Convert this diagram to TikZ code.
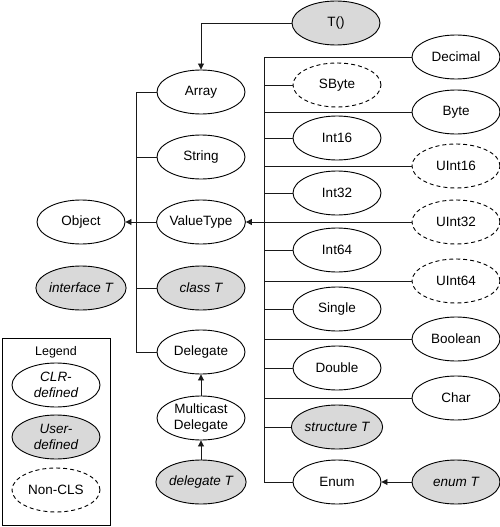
\documentclass[tikz,border=0pt]{standalone}
\usepackage{fontspec}
\setmainfont{Liberation Sans}
\usetikzlibrary{shapes.geometric,arrows.meta,positioning}
\tikzset{
  >={Triangle[length=6pt,width=6pt]},
  clr/.style={draw,ellipse,fill=white,minimum width=88pt,minimum height=44pt,inner sep=0pt,align=center,font=\fontsize{13.5}{16}\selectfont},
  usr/.style={clr,fill=gray!30},
  usrit/.style={usr,font=\fontsize{13.5}{16}\selectfont\itshape},
  ncls/.style={clr,dash pattern=on 4pt off 3pt},
  link/.style={draw,line width=0.9pt,black!90}
}
\begin{document}
\begin{tikzpicture}[x=1pt,y=-1pt,line width=0.9pt]
\useasboundingbox (0,0) rectangle (500,527);
% left part
\node[usr](T) at (336,23){T()};
\node[clr](arr) at (201,92){Array};
\node[clr](str) at (201,157){String};
\node[clr](vtype) at (201,222){ValueType};
\node[clr](obj) at (81,222){Object};
\node[usrit](ifaceT) at (81,288){interface T};
\node[usrit](classT) at (201,288){class T};
\node[clr](deleg) at (201,352){Delegate};
\node[clr](mcast) at (201,418){Multicast\\Delegate};
\node[usrit](delegT) at (201,482){delegate T};
% value types, inner column
\node[ncls](sbyte) at (337,85){SByte};
\node[clr](int16) at (337,138){Int16};
\node[clr](int32) at (337,193){Int32};
\node[clr](int64) at (337,250){Int64};
\node[clr](single) at (337,309){Single};
\node[clr](double) at (337,368){Double};
\node[usrit](structT) at (337,427){structure T};
\node[clr](enum) at (337,482){Enum};
% value types, outer column
\node[clr](decimal) at (456,57){Decimal};
\node[clr](byte) at (456,112){Byte};
\node[ncls](uint16) at (456,166){UInt16};
\node[ncls](uint32) at (456,222){UInt32};
\node[ncls](uint64) at (456,281){UInt64};
\node[clr](bool) at (456,339){Boolean};
\node[clr](char) at (456,398){Char};
\node[usrit](enumT) at (456,482){enum T};
% trunks
\coordinate(trunkL) at (136,0);
\coordinate(trunkR) at (264,0);
\draw[link,->](T.west) -| (arr.north);
\draw[link](arr.west) -- (arr.west -| trunkL) |- (deleg.west);
\draw[link](str.west) -- (str.west -| trunkL);
\draw[link](classT.west) -- (classT.west -| trunkL);
\draw[link,->](vtype.west) -- (obj.east);
\draw[link,->](mcast) -- (deleg);
\draw[link,->](delegT) -- (mcast);
\draw[link](decimal.west) -- (decimal.west -| trunkR) |- (enum.west);
\draw[link](sbyte.west) -- (sbyte.west -| trunkR);
\draw[link](int16.west) -- (int16.west -| trunkR);
\draw[link](int32.west) -- (int32.west -| trunkR);
\draw[link](int64.west) -- (int64.west -| trunkR);
\draw[link](single.west) -- (single.west -| trunkR);
\draw[link](double.west) -- (double.west -| trunkR);
\draw[link](structT.west) -- (structT.west -| trunkR);
\draw[link](byte.west) -- (byte.west -| trunkR);
\draw[link](uint16.west) -- (uint16.west -| trunkR);
\draw[link](uint64.west) -- (uint64.west -| trunkR);
\draw[link](bool.west) -- (bool.west -| trunkR);
\draw[link](char.west) -- (char.west -| trunkR);
\draw[link,->](uint32.west) -- (vtype.east);
\draw[link,->](enumT) -- (enum);
% legend
\node[draw,line width=0.9pt,minimum width=108pt,minimum height=187pt,inner sep=0pt](legbox) at (56,431.5){};
\node[font=\fontsize{12.5}{14}\selectfont](legtitle) at (56,352){Legend};
\node[clr,font=\fontsize{13.5}{16}\selectfont\itshape](legclr) at (56,385){CLR-\\defined};
\node[usrit](legusr) at (56,437){User-\\defined};
\node[ncls](legncls) at (56,490){Non-CLS};
\end{tikzpicture}
\end{document}
